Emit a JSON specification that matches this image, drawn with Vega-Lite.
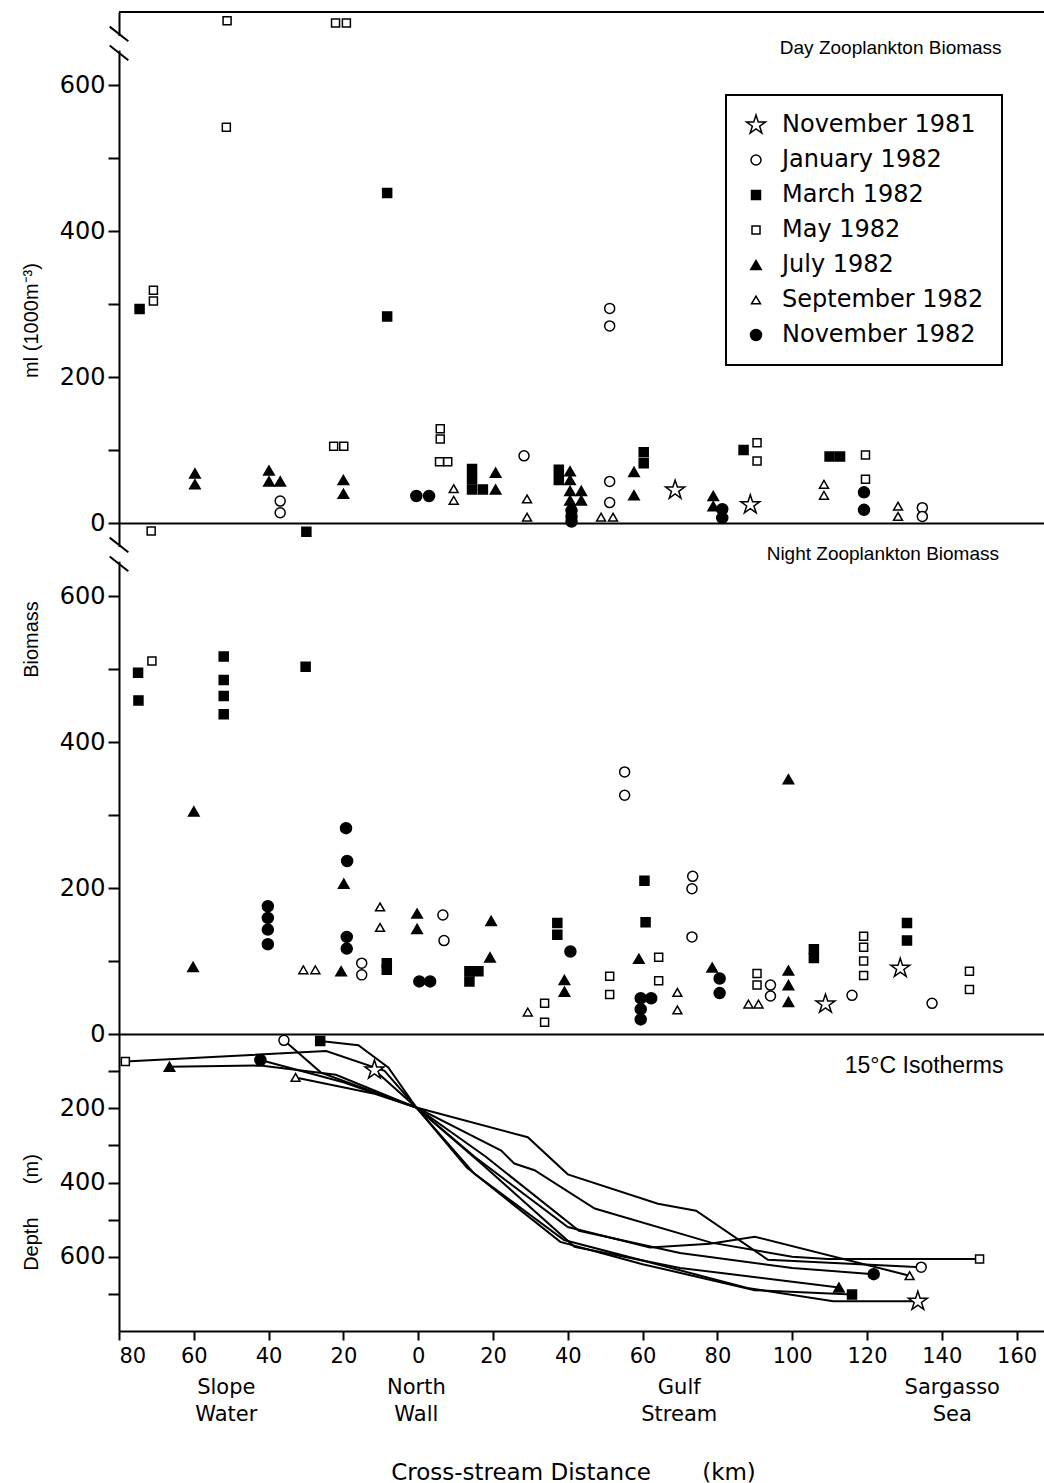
{
  "$schema": "https://vega.github.io/schema/vega-lite/v6.json",
  "padding": {"left": 20, "top": 11, "right": 0, "bottom": 0},
  "background": "white",
  "spacing": 0,
  "bounds": "flush",
  "config": {
    "view": {"stroke": null},
    "font": "DejaVu Sans",
    "axis": {"domainColor": "black", "domainWidth": 2, "tickColor": "black", "tickWidth": 2, "tickSize": 11, "labelColor": "black", "labelFont": "DejaVu Sans", "labelFontSize": 24, "labelPadding": 3, "titleColor": "black", "titleFont": "Liberation Sans", "titleFontSize": 20, "titleFontWeight": "normal", "grid": false},
    "legend": {"strokeColor": "black", "strokeWidth": 2, "padding": 18, "labelFont": "DejaVu Sans", "labelFontSize": 24, "labelColor": "black", "labelLimit": 400, "rowPadding": 11, "labelOffset": 14, "symbolStrokeColor": "black", "symbolStrokeWidth": 1.5}
  },
  "resolve": {"legend": {"shape": "independent", "fill": "independent", "size": "independent", "stroke": "independent"}},
  "datasets": {
    "day": [
      {"cruise": "May 1982", "km": -51.1, "v": 688}, {"cruise": "May 1982", "km": -22.1, "v": 685}, {"cruise": "May 1982", "km": -19.2, "v": 685}, {"cruise": "May 1982", "km": -51.3, "v": 542},
      {"cruise": "May 1982", "km": -70.8, "v": 319}, {"cruise": "May 1982", "km": -70.8, "v": 304}, {"cruise": "May 1982", "km": -22.6, "v": 105}, {"cruise": "May 1982", "km": -19.9, "v": 105},
      {"cruise": "May 1982", "km": 5.9, "v": 129}, {"cruise": "May 1982", "km": 5.9, "v": 115}, {"cruise": "May 1982", "km": 5.7, "v": 84}, {"cruise": "May 1982", "km": 7.9, "v": 84},
      {"cruise": "May 1982", "km": 90.6, "v": 110}, {"cruise": "May 1982", "km": 90.6, "v": 85}, {"cruise": "May 1982", "km": 119.6, "v": 93}, {"cruise": "May 1982", "km": 119.6, "v": 60},
      {"cruise": "March 1982", "km": -8.3, "v": 452}, {"cruise": "March 1982", "km": -74.5, "v": 293}, {"cruise": "March 1982", "km": -8.3, "v": 283},
      {"cruise": "March 1982", "km": 14.4, "v": 74}, {"cruise": "March 1982", "km": 14.4, "v": 60}, {"cruise": "March 1982", "km": 14.4, "v": 46}, {"cruise": "March 1982", "km": 17.3, "v": 46},
      {"cruise": "March 1982", "km": 37.6, "v": 73}, {"cruise": "March 1982", "km": 37.6, "v": 59}, {"cruise": "March 1982", "km": 60.3, "v": 97}, {"cruise": "March 1982", "km": 60.3, "v": 82},
      {"cruise": "March 1982", "km": 87, "v": 100}, {"cruise": "March 1982", "km": 110, "v": 91}, {"cruise": "March 1982", "km": 112.8, "v": 91},
      {"cruise": "July 1982", "km": -59.7, "v": 68}, {"cruise": "July 1982", "km": -59.7, "v": 53}, {"cruise": "July 1982", "km": -39.9, "v": 72}, {"cruise": "July 1982", "km": -39.9, "v": 57},
      {"cruise": "July 1982", "km": -36.9, "v": 57}, {"cruise": "July 1982", "km": -20, "v": 59}, {"cruise": "July 1982", "km": -20, "v": 40}, {"cruise": "July 1982", "km": 20.7, "v": 69},
      {"cruise": "July 1982", "km": 20.7, "v": 46}, {"cruise": "July 1982", "km": 40.6, "v": 71}, {"cruise": "July 1982", "km": 40.6, "v": 59}, {"cruise": "July 1982", "km": 40.6, "v": 44},
      {"cruise": "July 1982", "km": 43.6, "v": 44}, {"cruise": "July 1982", "km": 40.6, "v": 31}, {"cruise": "July 1982", "km": 43.6, "v": 31}, {"cruise": "July 1982", "km": 57.7, "v": 70},
      {"cruise": "July 1982", "km": 57.7, "v": 38}, {"cruise": "July 1982", "km": 78.9, "v": 37}, {"cruise": "July 1982", "km": 78.9, "v": 23},
      {"cruise": "January 1982", "km": -36.9, "v": 30}, {"cruise": "January 1982", "km": -36.9, "v": 14}, {"cruise": "January 1982", "km": 28.3, "v": 92}, {"cruise": "January 1982", "km": 51.2, "v": 294},
      {"cruise": "January 1982", "km": 51.2, "v": 270}, {"cruise": "January 1982", "km": 51.2, "v": 57}, {"cruise": "January 1982", "km": 51.2, "v": 28}, {"cruise": "January 1982", "km": 134.8, "v": 21},
      {"cruise": "January 1982", "km": 134.8, "v": 9},
      {"cruise": "September 1982", "km": 9.5, "v": 47}, {"cruise": "September 1982", "km": 9.5, "v": 31}, {"cruise": "September 1982", "km": 29.1, "v": 33}, {"cruise": "September 1982", "km": 29.1, "v": 8},
      {"cruise": "September 1982", "km": 48.9, "v": 8}, {"cruise": "September 1982", "km": 52.1, "v": 8}, {"cruise": "September 1982", "km": 108.5, "v": 53}, {"cruise": "September 1982", "km": 108.5, "v": 38},
      {"cruise": "September 1982", "km": 128.3, "v": 23}, {"cruise": "September 1982", "km": 128.3, "v": 9},
      {"cruise": "November 1982", "km": -0.5, "v": 37}, {"cruise": "November 1982", "km": 2.9, "v": 37}, {"cruise": "November 1982", "km": 41, "v": 17}, {"cruise": "November 1982", "km": 41, "v": 9},
      {"cruise": "November 1982", "km": 41, "v": 2}, {"cruise": "November 1982", "km": 81.3, "v": 19}, {"cruise": "November 1982", "km": 81.3, "v": 7}, {"cruise": "November 1982", "km": 119.2, "v": 42},
      {"cruise": "November 1982", "km": 119.2, "v": 18},
      {"cruise": "November 1981", "km": 68.7, "v": 45}, {"cruise": "November 1981", "km": 88.8, "v": 25}
    ],
    "night": [
      {"cruise": "May 1982", "km": -71.4, "v": 689}, {"cruise": "May 1982", "km": -71.2, "v": 511}, {"cruise": "May 1982", "km": 33.8, "v": 42}, {"cruise": "May 1982", "km": 33.8, "v": 16},
      {"cruise": "May 1982", "km": 51.2, "v": 79}, {"cruise": "May 1982", "km": 51.2, "v": 54}, {"cruise": "May 1982", "km": 64.3, "v": 105}, {"cruise": "May 1982", "km": 64.3, "v": 73},
      {"cruise": "May 1982", "km": 90.6, "v": 83}, {"cruise": "May 1982", "km": 90.6, "v": 67}, {"cruise": "May 1982", "km": 119.1, "v": 134}, {"cruise": "May 1982", "km": 119.1, "v": 119},
      {"cruise": "May 1982", "km": 119.1, "v": 100}, {"cruise": "May 1982", "km": 119.1, "v": 80}, {"cruise": "May 1982", "km": 147.4, "v": 86}, {"cruise": "May 1982", "km": 147.4, "v": 61},
      {"cruise": "March 1982", "km": -29.9, "v": 688}, {"cruise": "March 1982", "km": -74.9, "v": 495}, {"cruise": "March 1982", "km": -74.8, "v": 457}, {"cruise": "March 1982", "km": -52, "v": 517},
      {"cruise": "March 1982", "km": -52, "v": 485}, {"cruise": "March 1982", "km": -52, "v": 463}, {"cruise": "March 1982", "km": -52, "v": 438}, {"cruise": "March 1982", "km": -30.1, "v": 503},
      {"cruise": "March 1982", "km": -8.4, "v": 97}, {"cruise": "March 1982", "km": -8.4, "v": 88}, {"cruise": "March 1982", "km": 13.7, "v": 86}, {"cruise": "March 1982", "km": 16.1, "v": 86},
      {"cruise": "March 1982", "km": 13.7, "v": 72}, {"cruise": "March 1982", "km": 37.2, "v": 152}, {"cruise": "March 1982", "km": 37.2, "v": 136}, {"cruise": "March 1982", "km": 60.5, "v": 210},
      {"cruise": "March 1982", "km": 60.8, "v": 153}, {"cruise": "March 1982", "km": 105.8, "v": 116}, {"cruise": "March 1982", "km": 105.8, "v": 104}, {"cruise": "March 1982", "km": 130.7, "v": 152},
      {"cruise": "March 1982", "km": 130.7, "v": 128},
      {"cruise": "July 1982", "km": -60, "v": 305}, {"cruise": "July 1982", "km": -60.2, "v": 92}, {"cruise": "July 1982", "km": -20.6, "v": 86}, {"cruise": "July 1982", "km": -19.9, "v": 206},
      {"cruise": "July 1982", "km": -0.3, "v": 165}, {"cruise": "July 1982", "km": -0.3, "v": 144}, {"cruise": "July 1982", "km": 19.5, "v": 155}, {"cruise": "July 1982", "km": 19.2, "v": 105},
      {"cruise": "July 1982", "km": 39.1, "v": 74}, {"cruise": "July 1982", "km": 39.1, "v": 58}, {"cruise": "July 1982", "km": 59, "v": 103}, {"cruise": "July 1982", "km": 78.6, "v": 91},
      {"cruise": "July 1982", "km": 99, "v": 349}, {"cruise": "July 1982", "km": 99, "v": 87}, {"cruise": "July 1982", "km": 99, "v": 67}, {"cruise": "July 1982", "km": 99, "v": 44},
      {"cruise": "January 1982", "km": -15.1, "v": 97}, {"cruise": "January 1982", "km": -15.1, "v": 81}, {"cruise": "January 1982", "km": 6.6, "v": 163}, {"cruise": "January 1982", "km": 6.9, "v": 128},
      {"cruise": "January 1982", "km": 55.2, "v": 359}, {"cruise": "January 1982", "km": 55.2, "v": 327}, {"cruise": "January 1982", "km": 73.4, "v": 216}, {"cruise": "January 1982", "km": 73.2, "v": 199},
      {"cruise": "January 1982", "km": 73.2, "v": 133}, {"cruise": "January 1982", "km": 94.2, "v": 67}, {"cruise": "January 1982", "km": 94.2, "v": 52}, {"cruise": "January 1982", "km": 116, "v": 53},
      {"cruise": "January 1982", "km": 137.4, "v": 42},
      {"cruise": "September 1982", "km": -30.7, "v": 88}, {"cruise": "September 1982", "km": -27.5, "v": 88}, {"cruise": "September 1982", "km": -10.2, "v": 174}, {"cruise": "September 1982", "km": -10.2, "v": 146},
      {"cruise": "September 1982", "km": 29.3, "v": 30}, {"cruise": "September 1982", "km": 69.3, "v": 57}, {"cruise": "September 1982", "km": 69.3, "v": 33}, {"cruise": "September 1982", "km": 88.3, "v": 41},
      {"cruise": "September 1982", "km": 91, "v": 41},
      {"cruise": "November 1982", "km": -40.2, "v": 175}, {"cruise": "November 1982", "km": -40.2, "v": 159}, {"cruise": "November 1982", "km": -40.2, "v": 143}, {"cruise": "November 1982", "km": -40.2, "v": 123},
      {"cruise": "November 1982", "km": -19.3, "v": 282}, {"cruise": "November 1982", "km": -19, "v": 237}, {"cruise": "November 1982", "km": -19.1, "v": 133}, {"cruise": "November 1982", "km": -19.1, "v": 117},
      {"cruise": "November 1982", "km": 0.3, "v": 72}, {"cruise": "November 1982", "km": 3.2, "v": 72}, {"cruise": "November 1982", "km": 40.7, "v": 113}, {"cruise": "November 1982", "km": 59.5, "v": 49},
      {"cruise": "November 1982", "km": 62.3, "v": 49}, {"cruise": "November 1982", "km": 59.5, "v": 34}, {"cruise": "November 1982", "km": 59.5, "v": 20}, {"cruise": "November 1982", "km": 80.6, "v": 76},
      {"cruise": "November 1982", "km": 80.6, "v": 56},
      {"cruise": "November 1981", "km": 108.9, "v": 41}, {"cruise": "November 1981", "km": 128.9, "v": 90}
    ],
    "iso": [
      {"cruise": "January 1982", "seq": 1, "km": -35.9, "depth": 17, "end": 1}, {"cruise": "January 1982", "seq": 2, "km": -26, "depth": 104, "end": 0}, {"cruise": "January 1982", "seq": 3, "km": -0.5, "depth": 198, "end": 0},
      {"cruise": "January 1982", "seq": 4, "km": 29.3, "depth": 278, "end": 0}, {"cruise": "January 1982", "seq": 5, "km": 40, "depth": 378, "end": 0}, {"cruise": "January 1982", "seq": 6, "km": 64.1, "depth": 457, "end": 0},
      {"cruise": "January 1982", "seq": 7, "km": 74.3, "depth": 476, "end": 0}, {"cruise": "January 1982", "seq": 8, "km": 93.5, "depth": 608, "end": 0}, {"cruise": "January 1982", "seq": 9, "km": 134.5, "depth": 628, "end": 1},
      {"cruise": "May 1982", "seq": 1, "km": -78.3, "depth": 74, "end": 1}, {"cruise": "May 1982", "seq": 2, "km": -24.6, "depth": 46, "end": 0}, {"cruise": "May 1982", "seq": 3, "km": -9, "depth": 99, "end": 0},
      {"cruise": "May 1982", "seq": 4, "km": -0.5, "depth": 198, "end": 0}, {"cruise": "May 1982", "seq": 5, "km": 22.2, "depth": 314, "end": 0}, {"cruise": "May 1982", "seq": 6, "km": 25.7, "depth": 349, "end": 0},
      {"cruise": "May 1982", "seq": 7, "km": 31.1, "depth": 367, "end": 0}, {"cruise": "May 1982", "seq": 8, "km": 47.2, "depth": 470, "end": 0}, {"cruise": "May 1982", "seq": 9, "km": 78.3, "depth": 562, "end": 0},
      {"cruise": "May 1982", "seq": 10, "km": 100, "depth": 600, "end": 0}, {"cruise": "May 1982", "seq": 11, "km": 109.5, "depth": 606, "end": 0}, {"cruise": "May 1982", "seq": 12, "km": 150.1, "depth": 606, "end": 1},
      {"cruise": "September 1982", "seq": 1, "km": -32.8, "depth": 117, "end": 1}, {"cruise": "September 1982", "seq": 2, "km": -12, "depth": 160, "end": 0}, {"cruise": "September 1982", "seq": 3, "km": -0.5, "depth": 198, "end": 0},
      {"cruise": "September 1982", "seq": 4, "km": 15, "depth": 330, "end": 0}, {"cruise": "September 1982", "seq": 5, "km": 40, "depth": 520, "end": 0}, {"cruise": "September 1982", "seq": 6, "km": 62, "depth": 575, "end": 0},
      {"cruise": "September 1982", "seq": 7, "km": 78, "depth": 565, "end": 0}, {"cruise": "September 1982", "seq": 8, "km": 90, "depth": 546, "end": 0}, {"cruise": "September 1982", "seq": 9, "km": 131.4, "depth": 651, "end": 1},
      {"cruise": "November 1982", "seq": 1, "km": -42.2, "depth": 70, "end": 1}, {"cruise": "November 1982", "seq": 2, "km": -20, "depth": 130, "end": 0}, {"cruise": "November 1982", "seq": 3, "km": -0.5, "depth": 198, "end": 0},
      {"cruise": "November 1982", "seq": 4, "km": 18, "depth": 330, "end": 0}, {"cruise": "November 1982", "seq": 5, "km": 43, "depth": 530, "end": 0}, {"cruise": "November 1982", "seq": 6, "km": 70, "depth": 590, "end": 0},
      {"cruise": "November 1982", "seq": 7, "km": 100, "depth": 630, "end": 0}, {"cruise": "November 1982", "seq": 8, "km": 121.8, "depth": 647, "end": 1},
      {"cruise": "November 1981", "seq": 1, "km": -11.7, "depth": 97, "end": 1}, {"cruise": "November 1981", "seq": 2, "km": -0.5, "depth": 198, "end": 0}, {"cruise": "November 1981", "seq": 3, "km": 15, "depth": 376, "end": 0},
      {"cruise": "November 1981", "seq": 4, "km": 39, "depth": 555, "end": 0}, {"cruise": "November 1981", "seq": 5, "km": 60, "depth": 610, "end": 0}, {"cruise": "November 1981", "seq": 6, "km": 88, "depth": 684, "end": 0},
      {"cruise": "November 1981", "seq": 7, "km": 111, "depth": 720, "end": 0}, {"cruise": "November 1981", "seq": 8, "km": 133.6, "depth": 720, "end": 1},
      {"cruise": "March 1982", "seq": 1, "km": -26.2, "depth": 19, "end": 1}, {"cruise": "March 1982", "seq": 2, "km": -16, "depth": 30, "end": 0}, {"cruise": "March 1982", "seq": 3, "km": -8, "depth": 90, "end": 0},
      {"cruise": "March 1982", "seq": 4, "km": -0.5, "depth": 198, "end": 0}, {"cruise": "March 1982", "seq": 5, "km": 13, "depth": 360, "end": 0}, {"cruise": "March 1982", "seq": 6, "km": 38, "depth": 560, "end": 0},
      {"cruise": "March 1982", "seq": 7, "km": 60, "depth": 620, "end": 0}, {"cruise": "March 1982", "seq": 8, "km": 90, "depth": 690, "end": 0}, {"cruise": "March 1982", "seq": 9, "km": 116, "depth": 702, "end": 1},
      {"cruise": "July 1982", "seq": 1, "km": -66.5, "depth": 88, "end": 1}, {"cruise": "July 1982", "seq": 2, "km": -42.2, "depth": 85, "end": 0}, {"cruise": "July 1982", "seq": 3, "km": -22, "depth": 110, "end": 0},
      {"cruise": "July 1982", "seq": 4, "km": -0.5, "depth": 198, "end": 0}, {"cruise": "July 1982", "seq": 5, "km": 17, "depth": 350, "end": 0}, {"cruise": "July 1982", "seq": 6, "km": 41.8, "depth": 573, "end": 0},
      {"cruise": "July 1982", "seq": 7, "km": 70, "depth": 630, "end": 0}, {"cruise": "July 1982", "seq": 8, "km": 112.5, "depth": 683, "end": 1}
    ]
  },
  "vconcat": [
    {
      "width": 926, "height": 511,
      "layer": [
        {
          "data": {"name": "day"},
          "mark": {"type": "point", "filled": true, "strokeWidth": 1.5, "opacity": 1},
          "encoding": {
            "x": {"field": "km", "type": "quantitative", "scale": {"domain": [-80, 167.6], "nice": false, "zero": false}, "axis": {"values": [], "labels": false, "ticks": false, "title": null}},
            "y": {"field": "v", "type": "quantitative", "scale": {"domain": [0, 700], "nice": false}, "axis": {"values": [0, 100, 200, 300, 400, 500, 600], "labelExpr": "datum.value % 200 == 0 ? datum.label : ''", "title": "ml (1000m⁻³)", "titleX": -88, "titleY": 308, "titleBaseline": "middle", "titleAngle": -90}},
            "shape": {"field": "cruise", "type": "nominal", "title": null,
              "scale": {"domain": ["November 1981", "January 1982", "March 1982", "May 1982", "July 1982", "September 1982", "November 1982"], "range": ["M0,-1L0.2245,-0.309L0.9511,-0.309L0.3633,0.118L0.5878,0.809L0,0.382L-0.5878,0.809L-0.3633,0.118L-0.9511,-0.309L-0.2245,-0.309Z", "circle", "square", "square", "triangle-up", "triangle-up", "circle"]},
              "legend": {"orient": "none", "legendX": 607, "legendY": 83, "title": null, "symbolStrokeColor": "black"}},
            "fill": {"field": "cruise", "type": "nominal", "title": null,
              "scale": {"domain": ["November 1981", "January 1982", "March 1982", "May 1982", "July 1982", "September 1982", "November 1982"], "range": ["white", "white", "black", "white", "black", "white", "black"]},
              "legend": {"orient": "none", "legendX": 607, "legendY": 83, "title": null, "symbolStrokeColor": "black"}},
            "stroke": {"field": "cruise", "type": "nominal", "title": null,
              "scale": {"domain": ["November 1981", "January 1982", "March 1982", "May 1982", "July 1982", "September 1982", "November 1982"], "range": ["black", "black", "black", "black", "black", "black", "black"]},
              "legend": {"orient": "none", "legendX": 607, "legendY": 83, "title": null, "symbolStrokeColor": "black"}},
            "size": {"field": "cruise", "type": "nominal", "title": null,
              "scale": {"type": "ordinal", "domain": ["November 1981", "January 1982", "March 1982", "May 1982", "July 1982", "September 1982", "November 1982"], "range": [400, 100, 81, 64, 110, 80, 121]},
              "legend": {"orient": "none", "legendX": 607, "legendY": 83, "title": null, "symbolStrokeColor": "black"}}
          }
        },
        {
          "data": {"values": [{"edge": "top"}]},
          "mark": {"type": "rule", "color": "black", "strokeWidth": 2},
          "encoding": {"y": {"datum": 700}}
        },
        {
          "data": {"values": [{"mark": "axis break gap"}]},
          "mark": {"type": "rule", "color": "white", "strokeWidth": 6},
          "encoding": {"x": {"datum": -80}, "y": {"datum": 647}, "y2": {"datum": 667}}
        },
        {
          "data": {"values": [{"mark": "axis break upper"}]},
          "mark": {"type": "rule", "color": "black", "strokeWidth": 2},
          "encoding": {"x": {"datum": -82.5}, "x2": {"datum": -77.5}, "y": {"datum": 680}, "y2": {"datum": 660}}
        },
        {
          "data": {"values": [{"mark": "axis break lower"}]},
          "mark": {"type": "rule", "color": "black", "strokeWidth": 2},
          "encoding": {"x": {"datum": -82.5}, "x2": {"datum": -77.5}, "y": {"datum": 654}, "y2": {"datum": 634}}
        },
        {
          "data": {"values": [{"t": "Day Zooplankton Biomass"}]},
          "mark": {"type": "text", "align": "right", "baseline": "middle", "font": "Liberation Sans", "fontSize": 19, "color": "black"},
          "encoding": {"x": {"datum": 156}, "y": {"datum": 651}, "text": {"field": "t"}}
        }
      ]
    },
    {
      "width": 926, "height": 511,
      "layer": [
        {
          "data": {"name": "night"},
          "mark": {"type": "point", "filled": true, "strokeWidth": 1.5, "opacity": 1},
          "encoding": {
            "x": {"field": "km", "type": "quantitative", "scale": {"domain": [-80, 167.6], "nice": false, "zero": false}, "axis": {"values": [], "labels": false, "ticks": false, "title": null}},
            "y": {"field": "v", "type": "quantitative", "scale": {"domain": [0, 700], "nice": false}, "axis": {"values": [0, 100, 200, 300, 400, 500, 600], "labelExpr": "datum.value % 200 == 0 ? datum.label : ''", "title": "Biomass", "titleX": -88, "titleY": 116, "titleBaseline": "middle", "titleAngle": -90}},
            "shape": {"field": "cruise", "type": "nominal", "title": null,
              "scale": {"domain": ["November 1981", "January 1982", "March 1982", "May 1982", "July 1982", "September 1982", "November 1982"], "range": ["M0,-1L0.2245,-0.309L0.9511,-0.309L0.3633,0.118L0.5878,0.809L0,0.382L-0.5878,0.809L-0.3633,0.118L-0.9511,-0.309L-0.2245,-0.309Z", "circle", "square", "square", "triangle-up", "triangle-up", "circle"]}, "legend": null},
            "fill": {"field": "cruise", "type": "nominal", "title": null,
              "scale": {"domain": ["November 1981", "January 1982", "March 1982", "May 1982", "July 1982", "September 1982", "November 1982"], "range": ["white", "white", "black", "white", "black", "white", "black"]}, "legend": null},
            "stroke": {"field": "cruise", "type": "nominal", "title": null,
              "scale": {"domain": ["November 1981", "January 1982", "March 1982", "May 1982", "July 1982", "September 1982", "November 1982"], "range": ["black", "black", "black", "black", "black", "black", "black"]}, "legend": null},
            "size": {"field": "cruise", "type": "nominal", "title": null,
              "scale": {"type": "ordinal", "domain": ["November 1981", "January 1982", "March 1982", "May 1982", "July 1982", "September 1982", "November 1982"], "range": [400, 100, 81, 64, 110, 80, 121]}, "legend": null}
          }
        },
        {
          "data": {"values": [{"mark": "axis break gap"}]},
          "mark": {"type": "rule", "color": "white", "strokeWidth": 6},
          "encoding": {"x": {"datum": -80}, "y": {"datum": 647}, "y2": {"datum": 667}}
        },
        {
          "data": {"values": [{"mark": "axis break upper"}]},
          "mark": {"type": "rule", "color": "black", "strokeWidth": 2},
          "encoding": {"x": {"datum": -82.5}, "x2": {"datum": -77.5}, "y": {"datum": 680}, "y2": {"datum": 660}}
        },
        {
          "data": {"values": [{"mark": "axis break lower"}]},
          "mark": {"type": "rule", "color": "black", "strokeWidth": 2},
          "encoding": {"x": {"datum": -82.5}, "x2": {"datum": -77.5}, "y": {"datum": 654}, "y2": {"datum": 634}}
        },
        {
          "data": {"values": [{"t": "Night Zooplankton Biomass"}]},
          "mark": {"type": "text", "align": "right", "baseline": "middle", "font": "Liberation Sans", "fontSize": 19, "color": "black"},
          "encoding": {"x": {"datum": 155.3}, "y": {"datum": 657}, "text": {"field": "t"}}
        }
      ]
    },
    {
      "width": 926, "height": 297,
      "layer": [
        {
          "data": {"name": "iso"},
          "mark": {"type": "line", "color": "black", "strokeWidth": 2},
          "encoding": {
            "x": {"field": "km", "type": "quantitative", "scale": {"domain": [-80, 167.6], "nice": false, "zero": false},
              "axis": {"values": [-80, -60, -40, -20, 0, 20, 40, 60, 80, 100, 120, 140, 160], "labelExpr": "format(abs(datum.value), 'd')", "tickSize": 9, "labelFontSize": 21, "labelPadding": 5, "title": "Cross-stream Distance\u00a0\u00a0\u00a0\u00a0\u00a0\u00a0\u00a0(km)", "titleFont": "DejaVu Sans", "titleFontSize": 23, "titleX": 454, "titleY": 141, "titleBaseline": "middle"}},
            "y": {"field": "depth", "type": "quantitative", "scale": {"domain": [0, 800], "nice": false, "reverse": true},
              "axis": {"values": [100, 200, 300, 400, 500, 600, 700], "labelExpr": "datum.value % 200 == 0 ? datum.label : ''", "title": "Depth\u00a0\u00a0\u00a0\u00a0\u00a0\u00a0(m)", "titleX": -88, "titleY": 178, "titleBaseline": "middle", "titleAngle": -90}},
            "detail": {"field": "cruise"},
            "order": {"field": "seq"}
          }
        },
        {
          "data": {"name": "iso"},
          "transform": [{"filter": "datum.end == 1"}],
          "mark": {"type": "point", "filled": true, "strokeWidth": 1.5, "opacity": 1},
          "encoding": {
            "x": {"field": "km", "type": "quantitative"},
            "y": {"field": "depth", "type": "quantitative"},
            "shape": {"field": "cruise", "type": "nominal", "title": null,
              "scale": {"domain": ["November 1981", "January 1982", "March 1982", "May 1982", "July 1982", "September 1982", "November 1982"], "range": ["M0,-1L0.2245,-0.309L0.9511,-0.309L0.3633,0.118L0.5878,0.809L0,0.382L-0.5878,0.809L-0.3633,0.118L-0.9511,-0.309L-0.2245,-0.309Z", "circle", "square", "square", "triangle-up", "triangle-up", "circle"]}, "legend": null},
            "fill": {"field": "cruise", "type": "nominal", "title": null,
              "scale": {"domain": ["November 1981", "January 1982", "March 1982", "May 1982", "July 1982", "September 1982", "November 1982"], "range": ["white", "white", "black", "white", "black", "white", "black"]}, "legend": null},
            "stroke": {"field": "cruise", "type": "nominal", "title": null,
              "scale": {"domain": ["November 1981", "January 1982", "March 1982", "May 1982", "July 1982", "September 1982", "November 1982"], "range": ["black", "black", "black", "black", "black", "black", "black"]}, "legend": null},
            "size": {"field": "cruise", "type": "nominal", "title": null,
              "scale": {"type": "ordinal", "domain": ["November 1981", "January 1982", "March 1982", "May 1982", "July 1982", "September 1982", "November 1982"], "range": [400, 100, 81, 64, 110, 80, 121]}, "legend": null}
          }
        },
        {
          "data": {"values": [{"t": "15°C Isotherms"}]},
          "mark": {"type": "text", "align": "right", "baseline": "middle", "font": "Liberation Sans", "fontSize": 23, "color": "black"},
          "encoding": {"x": {"datum": 156.5}, "y": {"datum": 85}, "text": {"field": "t"}}
        },
        {
          "data": {"values": [{"km": -51.3, "region": ["Slope", "Water"]}, {"km": -0.5, "region": ["North", "Wall"]}, {"km": 69.8, "region": ["Gulf", "Stream"]}, {"km": 142.8, "region": ["Sargasso", "Sea"]}]},
          "mark": {"type": "text", "align": "center", "baseline": "top", "font": "DejaVu Sans", "fontSize": 21, "lineHeight": 27, "color": "black"},
          "encoding": {"x": {"field": "km", "type": "quantitative"}, "y": {"datum": 925}, "text": {"field": "region"}}
        }
      ]
    }
  ]
}
